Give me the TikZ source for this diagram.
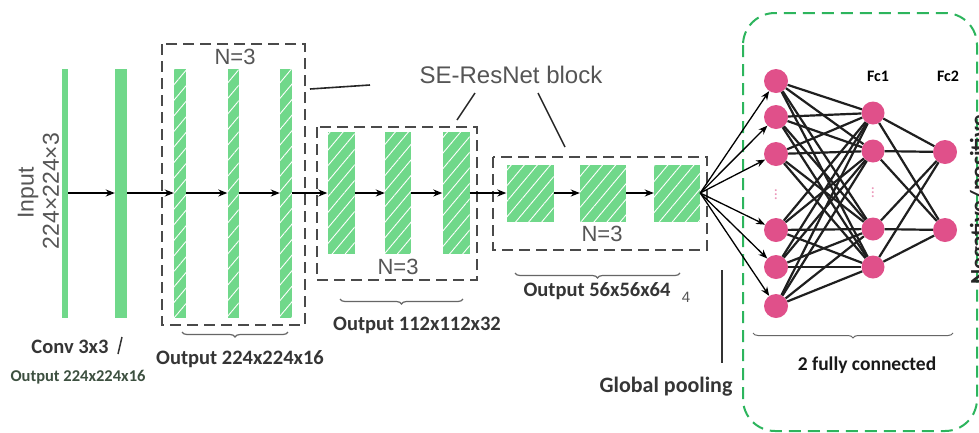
\documentclass[tikz,border=0pt]{standalone}
\usepackage{fontspec}
\setmainfont{Carlito}
\newfontfamily\arialfont{Liberation Sans}
\usepackage{tikz}
\usetikzlibrary{arrows.meta,calc,decorations.pathreplacing,patterns.meta}

\definecolor{barGreen}{HTML}{70D88A}
\definecolor{nodePink}{HTML}{E0508A}
\definecolor{boxGreen}{HTML}{2DB55D}
\definecolor{boxGray}{HTML}{4A4A4A}
\definecolor{txtGray}{HTML}{555555}
\definecolor{txtDark}{HTML}{353535}
\definecolor{txtMoss}{HTML}{3D5040}

\begin{document}
\begin{tikzpicture}[x=1pt, y=-1pt,
  every node/.style={inner sep=0pt, text=txtDark},
  bar/.style={rectangle, fill=barGreen},
  hatched/.style={bar, postaction={pattern={Lines[angle=50,distance=10pt,line width=0.9pt]}, pattern color=white}},
  neuron/.style={circle, fill=nodePink, minimum size=24pt},
  flow/.style={line width=1.4pt, -{Stealth[length=9pt,width=7pt]}},
  link/.style={line width=2.2pt, black!88},
  blockbox/.style={line width=1.9pt, draw=boxGray, dash pattern=on 11pt off 6pt},
  brace/.style={decorate, decoration={brace, mirror, amplitude=5pt}, line width=1.2pt, draw=black!60},
  arial/.style={font=\arialfont\fontsize{22}{24}\selectfont, text=txtGray},
  calib/.style={font=\bfseries\fontsize{20.5}{23}\selectfont, text=txtDark}]
  \useasboundingbox[fill=white] (0,0) rectangle (979,432);

  % input and first convolution
  \node[arial, font=\arialfont\fontsize{23}{26}\selectfont, rotate=90] (inname) at (28,193) {Input};
  \node[arial, font=\arialfont\fontsize{23}{26}\selectfont, rotate=90] (insize) at (51,191) {224×224×3};
  \node[bar, minimum width=6pt, minimum height=249pt] (in) at (65,193) {};
  \node[bar, minimum width=12pt, minimum height=249pt] (cv) at (121,193) {};
  \node[calib] (cvname) at (70,347) {Conv 3x3};
  \node[calib, font=\bfseries\fontsize{16.5}{19}\selectfont, text=txtMoss] (cvout) at (78,377) {Output 224x224x16};
  \coordinate (cvtick1) at (118,354);
  \coordinate (cvtick2) at (122,337);
  \draw[line width=1.5pt, black!80] (cvtick1) -- (cvtick2);

  % first SE-ResNet stage
  \node[hatched, minimum width=12pt, minimum height=249pt] (a1) at (180,193) {};
  \node[hatched, minimum width=11pt, minimum height=249pt] (a2) at (233,193) {};
  \node[hatched, minimum width=12pt, minimum height=249pt] (a3) at (286,193) {};
  \draw[blockbox] (162,44) rectangle (305,325);
  \node[arial] (n1) at (235,57) {N=3};
  \draw[brace] (182,332) -- (288,332);
  \node[calib] (aout) at (240,359) {Output 224x224x16};
  \coordinate (stray1) at (310,89);
  \coordinate (stray2) at (370,85);
  \draw[line width=1.6pt, black!85] (stray1) -- (stray2);

  % second SE-ResNet stage
  \node[hatched, minimum width=27pt, minimum height=122pt] (b1) at (341,193) {};
  \node[hatched, minimum width=26pt, minimum height=122pt] (b2) at (398,193) {};
  \node[hatched, minimum width=27pt, minimum height=122pt] (b3) at (456,193) {};
  \draw[blockbox] (317,127) rectangle (477,280);
  \node[arial] (n2) at (398,267) {N=3};
  \draw[brace] (340,299) -- (463,299);
  \node[calib] (bout) at (417,325) {Output 112x112x32};

  % third SE-ResNet stage
  \node[hatched, minimum width=47pt, minimum height=57pt] (c1) at (530,193) {};
  \node[hatched, minimum width=46pt, minimum height=57pt] (c2) at (603,193) {};
  \node[hatched, minimum width=46pt, minimum height=57pt] (c3) at (677,193) {};
  \draw[blockbox] (493,157) rectangle (707,250);
  \node[arial] (n3) at (602,234) {N=3};
  \draw[brace] (515,273) -- (680,273);
  \node[calib] (cout) at (597,291) {Output 56x56x64};
  \node[arial, font=\arialfont\fontsize{15}{18}\selectfont] (cfour) at (686,297) {4};

  % block caption
  \node[arial, font=\arialfont\fontsize{24}{26}\selectfont] (se) at (511,75) {SE-ResNet block};
  \coordinate (seA) at (475,93);
  \coordinate (seB) at (457,120);
  \coordinate (seC) at (538,93);
  \coordinate (seD) at (565,147);
  \draw[line width=1.5pt, black!85] (seA) -- (seB);
  \draw[line width=1.5pt, black!85] (seC) -- (seD);

  % main flow
  \draw[flow] (in) -- (cv);
  \draw[flow] (cv) -- (a1);
  \draw[flow] (a1) -- (a2);
  \draw[flow] (a2) -- (a3);
  \draw[flow] (a3) -- (b1);
  \draw[flow] (b1) -- (b2);
  \draw[flow] (b2) -- (b3);
  \draw[flow] (b3) -- (c1);
  \draw[flow] (c1) -- (c2);
  \draw[flow] (c2) -- (c3);

  % fully connected part
  \draw[boxGreen, line width=2pt, dash pattern=on 12pt off 7pt, rounded corners=32pt] (743,13) rectangle (977,431);
  \node[neuron] (p1) at (776,81) {};
  \node[neuron] (p2) at (776,117) {};
  \node[neuron] (p3) at (776,154) {};
  \node[neuron] (p4) at (776,230) {};
  \node[neuron] (p5) at (776,267) {};
  \node[neuron] (p6) at (776,306) {};
  \node[neuron, minimum size=23pt] (q1) at (873,113) {};
  \node[neuron, minimum size=23pt] (q2) at (873,151) {};
  \node[neuron, minimum size=23pt] (q3) at (873,229) {};
  \node[neuron, minimum size=23pt] (q4) at (873,267) {};
  \node[neuron] (r1) at (945,152) {};
  \node[neuron] (r2) at (945,230) {};
  \node[text=nodePink!60, font=\fontsize{16}{18}\selectfont] (pdots) at (776,192) {$\vdots$};
  \node[text=nodePink!60, font=\fontsize{16}{18}\selectfont] (qdots) at (873,190) {$\vdots$};
  \foreach \i in {1,...,6} {
    \draw[flow, line width=1.3pt] (c3.east) -- (p\i);
    \foreach \j in {1,...,4}
      \draw[link] (p\i) -- (q\j);
  }
  \foreach \j in {1,...,4} {
    \draw[link] (q\j) -- (r1);
    \draw[link] (q\j) -- (r2);
  }
  \node[calib, font=\bfseries\fontsize{16}{18}\selectfont, text=black] (fc1) at (878,76) {Fc1};
  \node[calib, font=\bfseries\fontsize{16}{18}\selectfont, text=black] (fc2) at (948,76) {Fc2};
  \draw[brace, line width=1pt] (753,333) -- (953,333);
  \node[calib, font=\bfseries\fontsize{19.5}{22}\selectfont, text=black!90] (fcname) at (867,365) {2 fully connected};
  \node[calib, font=\bfseries\fontsize{23}{25}\selectfont, text=black!85, rotate=90, anchor=base] (cls) at (986,200) {Negative/positive};

  % global pooling
  \coordinate (gptop) at (722,270);
  \coordinate (gpbot) at (722,363);
  \draw[line width=1.5pt, black!80] (gptop) -- (gpbot);
  \node[calib, font=\bfseries\fontsize{22}{24}\selectfont] (gpname) at (666,387) {Global pooling};
\end{tikzpicture}
\end{document}
